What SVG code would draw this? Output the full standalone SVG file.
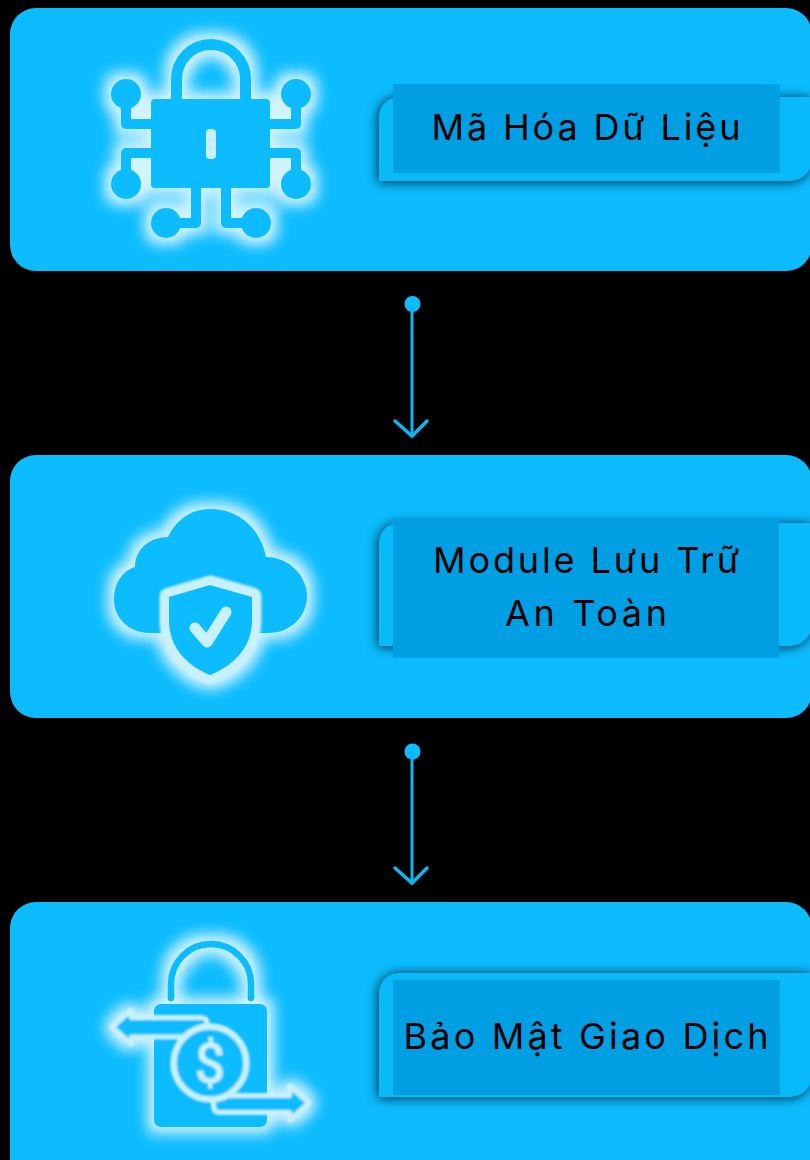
<svg xmlns="http://www.w3.org/2000/svg" width="810" height="1160" viewBox="0 0 810 1160">
<style>
.card{fill:#0cbcff}
.panel{fill:#09bafb}
.inner{fill:#009fe3}
.t{font-family:"Inter","Noto Sans","DejaVu Sans",sans-serif;font-size:36px;fill:#000;text-anchor:middle}
.ic{fill:#0cbcff}
.tr{fill:none;stroke:#0cbcff;stroke-linejoin:round;stroke-linecap:round}
.lt{fill:#c8f0ff}
.cl{fill:none;stroke:#0db6f3;stroke-width:3}
.hd{fill:none;stroke:#0db6f3;stroke-width:3.5;stroke-linecap:round;stroke-linejoin:miter}
.dot{fill:#0cbcff}
</style>
<defs>
<filter id="shadow" x="-15%" y="-40%" width="130%" height="180%" color-interpolation-filters="sRGB">
<feGaussianBlur in="SourceAlpha" stdDeviation="6" result="b"/>
<feOffset in="b" dx="-1" dy="1" result="o"/>
<feFlood flood-color="#002233" flood-opacity="0.95"/>
<feComposite in2="o" operator="in" result="s"/>
<feMerge><feMergeNode in="s"/><feMergeNode in="SourceGraphic"/></feMerge>
</filter>
<filter id="glow" x="-30%" y="-30%" width="160%" height="160%" color-interpolation-filters="sRGB">
<feMorphology in="SourceAlpha" operator="dilate" radius="7" result="d"/>
<feGaussianBlur in="d" stdDeviation="7" result="b"/>
<feFlood flood-color="#d2f3ff" flood-opacity="1"/>
<feComposite in2="b" operator="in" result="g"/>
<feMerge><feMergeNode in="g"/><feMergeNode in="SourceGraphic"/></feMerge>
</filter>
<filter id="soft" x="-30%" y="-30%" width="160%" height="160%"><feGaussianBlur stdDeviation="0.8"/></filter>
</defs>
<rect width="810" height="1160" fill="#000"/>

<g id="node-encryption">
<rect class="card" x="10" y="8" width="802" height="263" rx="26"/>
<g filter="url(#glow)">
<rect class="ic" x="151" y="99" width="119" height="89" rx="4"/>
<path class="tr" stroke-width="11" stroke-linecap="butt" d="M176.500 100V79A34.500 34.500 0 0 1 245.500 79V100"/>
<circle class="ic" cx="126" cy="94" r="15"/><circle class="ic" cx="296" cy="94" r="15"/>
<circle class="ic" cx="126" cy="184" r="15"/><circle class="ic" cx="296" cy="184" r="15"/>
<circle class="ic" cx="166" cy="223" r="15"/><circle class="ic" cx="256" cy="223" r="15"/>
<path class="tr" stroke-width="10" d="M126 94V124H152M126 184V153H152M296 94V124H269M296 184V153H269M196 187V223H166M226 187V223H256"/>
</g>
<rect class="lt" x="206" y="129" width="10" height="30" rx="4"/>
<path class="panel" filter="url(#shadow)" d="M399 97H812V159A22 22 0 0 1 790 181H379V117A20 20 0 0 1 399 97Z"/>
<rect class="inner" x="393" y="84" width="387" height="89"/>
<text class="t" x="586" y="140" textLength="309">Mã Hóa Dữ Liệu</text>
</g>

<g id="node-storage">
<rect class="card" x="10" y="455" width="802" height="263" rx="26"/>
<g filter="url(#glow)">
<path class="ic" d="M162 633H150C128 633 114 617 114 600C114 584 122 571 135 567C135 549 150 537 168 537C176 520 191 509 210 509C240 509 261 530 266 557C289 557 307 576 307 596C307 617 290 633 268 633H260Z"/>
<path class="ic" d="M210 585L169 597V620C169 650 190 667 210 675C230 667 252 650 252 620V597Z" stroke="#0cbcff" stroke-width="14" stroke-linejoin="round"/>
</g>
<path d="M210 585L169 597V620C169 650 190 667 210 675C230 667 252 650 252 620V597Z" fill="#c8f0ff" stroke="#c8f0ff" stroke-width="19" stroke-linejoin="round" filter="url(#soft)"/>
<path class="ic" d="M210 585L169 597V620C169 650 190 667 210 675C230 667 252 650 252 620V597Z"/>
<path d="M195 628L207 642L226 612" fill="none" stroke="#c8f0ff" stroke-width="11" stroke-linecap="round" stroke-linejoin="round"/>
<path class="panel" filter="url(#shadow)" d="M399 523H812V624A22 22 0 0 1 790 646H379V543A20 20 0 0 1 399 523Z"/>
<rect class="inner" x="393" y="518" width="386" height="140"/>
<text class="t" x="586" y="573" textLength="306">Module Lưu Trữ</text>
<text class="t" x="586" y="626" textLength="162">An Toàn</text>
</g>

<g id="node-transaction">
<rect class="card" x="10" y="902" width="802" height="290" rx="26"/>
<g filter="url(#glow)">
<path class="tr" stroke-width="6.500" stroke-linecap="butt" d="M171 998V984A40 40 0 0 1 251 984V998"/>
<rect class="ic" x="154" y="1004" width="113" height="123" rx="7"/>
<path class="ic" d="M112 1027L131.500 1010V1017H207V1038H131.500V1044Z"/>
<path class="ic" d="M309 1103L289.500 1120V1113H213V1095H289.500V1086Z"/>
</g>
<g filter="url(#soft)">
<path class="ic" stroke="#c8f0ff" stroke-width="5" stroke-linejoin="round" d="M112 1027L131.500 1010V1017.500H201Q207 1017.500 207 1023V1037H131.500V1044Z"/>
<path class="ic" stroke="#c8f0ff" stroke-width="5" stroke-linejoin="round" d="M309 1103L289.500 1120V1112.500H220Q213.500 1112.500 213.500 1106V1095.500H289.500V1086Z"/>
<circle class="ic" cx="210" cy="1063" r="36.500" stroke="#c8f0ff" stroke-width="6.500"/>
<text x="210" y="1083" font-family="Roboto,sans-serif" font-size="55" font-weight="500" text-anchor="middle" fill="#c8f0ff">$</text>
</g>
<path class="panel" filter="url(#shadow)" d="M399 973H812V1075A22 22 0 0 1 790 1097H379V993A20 20 0 0 1 399 973Z"/>
<rect class="inner" x="393" y="980" width="387" height="115"/>
<text class="t" x="586" y="1049" textLength="365">Bảo Mật Giao Dịch</text>
</g>

<g id="connectors">
<circle class="dot" cx="412.500" cy="304" r="8"/>
<path class="cl" d="M412 304V435"/>
<path class="hd" d="M395 421L412 436L427 421"/>
<circle class="dot" cx="412.500" cy="751.500" r="8"/>
<path class="cl" d="M412 751V882"/>
<path class="hd" d="M395 868L412 883L427 868"/>
</g>
</svg>
